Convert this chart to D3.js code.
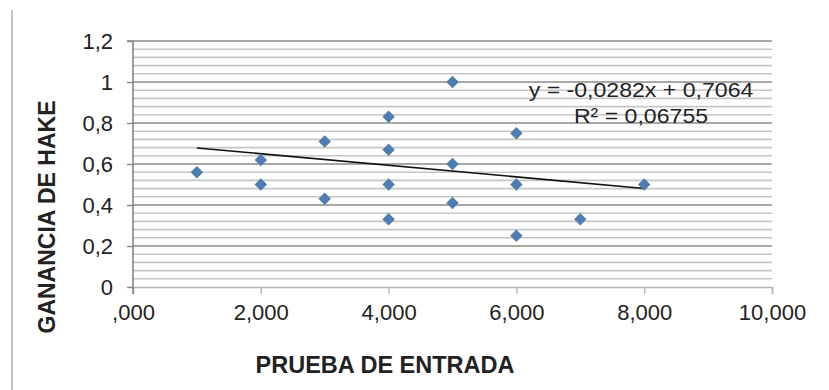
<!DOCTYPE html>
<html>
<head>
<meta charset="utf-8">
<script src="https://cdn.jsdelivr.net/npm/d3@7"></script>
<style>
  html, body { margin: 0; padding: 0; background: #fff; }
  svg { display: block; }
  text { font-family: "Liberation Sans", Arial, sans-serif; fill: #222; }
</style>
</head>
<body>
<svg id="chart" width="829" height="390"></svg>
<script>
// Prueba de entrada vs. ganancia de Hake (one point per student)
const pruebaEntrada = [1, 2, 2, 3, 3, 4, 4, 4, 4, 5, 5, 5, 6, 6, 6, 7, 8];
const gananciaHake  = [0.56, 0.62, 0.50, 0.71, 0.43, 0.83, 0.67, 0.50, 0.33, 1.00, 0.60, 0.41, 0.75, 0.50, 0.25, 0.33, 0.50];

// Linear trendline reported with the chart
const trendSlope = -0.0282;
const trendIntercept = 0.7064;
const trendR2 = "0,06755";
const trendRange = [1, 8];

const xTicks = [0, 2, 4, 6, 8, 10];
const yTicks = [0, 0.2, 0.4, 0.6, 0.8, 1.0, 1.2];
const xTickLabels = [",000", "2,000", "4,000", "6,000", "8,000", "10,000"];
const yTickLabels = ["0", "0,2", "0,4", "0,6", "0,8", "1", "1,2"];
const minorStep = 0.04;

const xTitle = "PRUEBA DE ENTRADA";
const yTitle = "GANANCIA DE HAKE";

const svg = d3.select("#chart");

// Outer chart frame (left edge visible)
svg.append("line")
  .attr("x1", 12).attr("x2", 12).attr("y1", 10).attr("y2", 390)
  .attr("stroke", "#c4c4c4").attr("stroke-width", 2);

const x = d3.scaleLinear().domain([0, 10]).range([133, 772]);
const y = d3.scaleLinear().domain([0, 1.2]).range([287, 41]);

// Minor horizontal gridlines
const minorVals = d3.range(1, Math.round(1.2 / minorStep) + 1)
  .map(i => +(i * minorStep).toFixed(2))
  .filter(v => Math.abs(v / 0.2 - Math.round(v / 0.2)) > 1e-6);
svg.append("g").selectAll("line").data(minorVals).join("line")
  .attr("x1", x(0)).attr("x2", x(10))
  .attr("y1", d => y(d)).attr("y2", d => y(d))
  .attr("stroke", "#c6c6c6").attr("stroke-width", 1.6);

// Major horizontal gridlines
svg.append("g").selectAll("line").data(yTicks.filter(v => v > 0)).join("line")
  .attr("x1", x(0)).attr("x2", x(10))
  .attr("y1", d => y(d)).attr("y2", d => y(d))
  .attr("stroke", "#8a8a8a").attr("stroke-width", 1.6);

// X axis
const xAxis = d3.axisBottom(x).tickValues(xTicks).tickSize(7).tickPadding(10)
  .tickFormat((d, i) => xTickLabels[i]);
const gx = svg.append("g").attr("transform", `translate(0,${y(0)})`).call(xAxis);
gx.select(".domain").attr("stroke", "#b5b5b5").attr("stroke-width", 1.6);
gx.selectAll(".tick line").attr("stroke", "#b5b5b5").attr("stroke-width", 1.4);
gx.selectAll(".tick text").attr("font-size", 22).attr("fill", "#1e1e1e")
  .attr("font-family", "'Liberation Sans', Arial, sans-serif");

// Y axis
const yAxis = d3.axisLeft(y).tickValues(yTicks).tickSize(6).tickPadding(14)
  .tickFormat((d, i) => yTickLabels[i]);
const gy = svg.append("g").attr("transform", `translate(${x(0)},0)`).call(yAxis);
gy.select(".domain").attr("stroke", "#858585").attr("stroke-width", 1.6)
  .attr("d", `M-6,${y(1.2)}H0V${y(0) + 7}`);
gy.selectAll(".tick line").attr("stroke", "#858585").attr("stroke-width", 1.4);
gy.selectAll(".tick text").attr("font-size", 22).attr("fill", "#1e1e1e")
  .attr("font-family", "'Liberation Sans', Arial, sans-serif");

// Trendline
svg.append("line")
  .attr("x1", x(trendRange[0])).attr("y1", y(trendSlope * trendRange[0] + trendIntercept))
  .attr("x2", x(trendRange[1])).attr("y2", y(trendSlope * trendRange[1] + trendIntercept))
  .attr("stroke", "#111").attr("stroke-width", 1.6);

// Data points (diamonds)
const diamond = d3.symbol().type(d3.symbolSquare).size(78);
svg.append("g").selectAll("path").data(pruebaEntrada.map((v, i) => [v, gananciaHake[i]])).join("path")
  .attr("d", diamond)
  .attr("transform", d => `translate(${x(d[0])},${y(d[1])}) rotate(45)`)
  .attr("fill", "#4f7db0");

// Trendline equation (slightly widened label box)
const fmt = v => v.toFixed(4).replace(".", ",");
const eqText = `y = ${trendSlope < 0 ? "-" : ""}${fmt(Math.abs(trendSlope))}x + ${fmt(trendIntercept)}`;
const eq = svg.append("g").attr("transform", "translate(641,0) scale(1.1,1)");
eq.append("text").attr("x", 0).attr("y", 97).attr("text-anchor", "middle")
  .attr("font-size", 21).attr("fill", "#2a2a2a").text(eqText);
eq.append("text").attr("x", 0).attr("y", 123).attr("text-anchor", "middle")
  .attr("font-size", 21).attr("fill", "#2a2a2a").text(`R² = ${trendR2}`);

// Axis titles
svg.append("text").attr("x", 385).attr("y", 373).attr("text-anchor", "middle")
  .attr("font-size", 23.5).attr("font-weight", "bold").attr("fill", "#1a1a1a").text(xTitle);
svg.append("text").attr("transform", `translate(55,217) rotate(-90)`).attr("text-anchor", "middle")
  .attr("font-size", 23).attr("font-weight", "bold").attr("fill", "#1a1a1a").text(yTitle);
</script>
</body>
</html>
